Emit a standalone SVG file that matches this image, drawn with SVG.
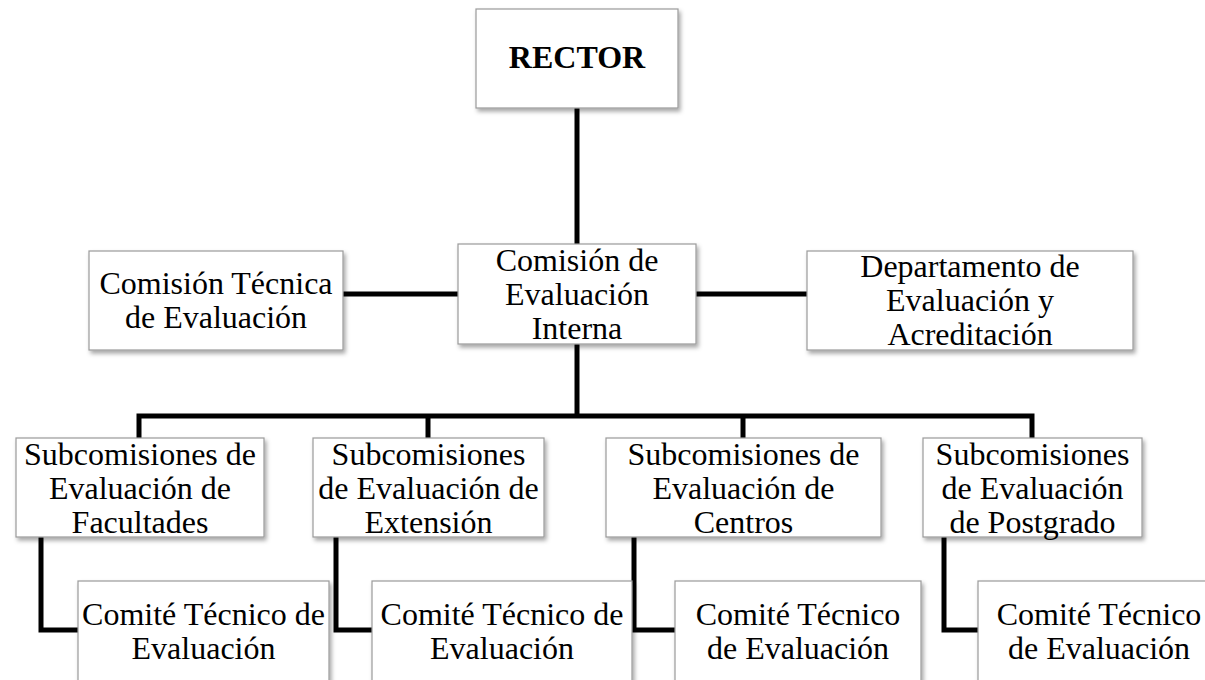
<svg xmlns="http://www.w3.org/2000/svg" width="1205" height="680" viewBox="0 0 1205 680">
  <defs>
    <filter id="sh" x="-10%" y="-10%" width="125%" height="130%">
      <feDropShadow dx="2" dy="3" stdDeviation="2" flood-color="#000" flood-opacity="0.35"/>
    </filter>
    <style>
      .box { fill: #ffffff; stroke: #9a9a9a; stroke-width: 1.2; filter: url(#sh); }
      .t { font-family: "Liberation Serif", "Times New Roman", serif; font-size: 32px; fill: #000; text-anchor: middle; }
      .b { font-weight: bold; }
      .c { fill: none; stroke: #000; stroke-width: 5; stroke-linejoin: miter; stroke-linecap: butt; }
    </style>
  </defs>
  <rect width="1205" height="680" fill="#ffffff"/>

  <g id="connectors">
    <path class="c" d="M577,108 V244"/>
    <path class="c" d="M343,294 H458"/>
    <path class="c" d="M696,294 H807"/>
    <path class="c" d="M577,344 V416"/>
    <path class="c" d="M139,438 V416 H1032 V438"/>
    <path class="c" d="M428,416 V438"/>
    <path class="c" d="M743,416 V438"/>
    <path class="c" d="M41,537 V630 H78"/>
    <path class="c" d="M336,537 V630 H372"/>
    <path class="c" d="M634,537 V630 H675"/>
    <path class="c" d="M944,537 V630 H978"/>
  </g>

  <g id="rector">
    <rect class="box" x="476" y="9" width="202" height="99"/>
    <text class="t b" x="577" y="68">RECTOR</text>
  </g>

  <g id="comision-tecnica">
    <rect class="box" x="89" y="251" width="254" height="99"/>
    <text class="t" x="216" y="294">Comisión Técnica</text>
    <text class="t" x="216" y="328">de Evaluación</text>
  </g>

  <g id="comision-interna">
    <rect class="box" x="458" y="244" width="238" height="100"/>
    <text class="t" x="577" y="271">Comisión de</text>
    <text class="t" x="577" y="305">Evaluación</text>
    <text class="t" x="577" y="339">Interna</text>
  </g>

  <g id="departamento">
    <rect class="box" x="807" y="251" width="326" height="99"/>
    <text class="t" x="970" y="277">Departamento de</text>
    <text class="t" x="970" y="311">Evaluación y</text>
    <text class="t" x="970" y="345">Acreditación</text>
  </g>

  <g id="sub-facultades">
    <rect class="box" x="16" y="438" width="248" height="99"/>
    <text class="t" x="140" y="465">Subcomisiones de</text>
    <text class="t" x="140" y="499">Evaluación de</text>
    <text class="t" x="140" y="533">Facultades</text>
  </g>

  <g id="sub-extension">
    <rect class="box" x="313" y="438" width="231" height="99"/>
    <text class="t" x="428.5" y="465">Subcomisiones</text>
    <text class="t" x="428.5" y="499">de Evaluación de</text>
    <text class="t" x="428.5" y="533">Extensión</text>
  </g>

  <g id="sub-centros">
    <rect class="box" x="606" y="438" width="275" height="99"/>
    <text class="t" x="743.5" y="465">Subcomisiones de</text>
    <text class="t" x="743.5" y="499">Evaluación de</text>
    <text class="t" x="743.5" y="533">Centros</text>
  </g>

  <g id="sub-postgrado">
    <rect class="box" x="923" y="438" width="219" height="99"/>
    <text class="t" x="1032.5" y="465">Subcomisiones</text>
    <text class="t" x="1032.5" y="499">de Evaluación</text>
    <text class="t" x="1032.5" y="533">de Postgrado</text>
  </g>

  <g id="comite-1">
    <rect class="box" x="78" y="581" width="251" height="100"/>
    <text class="t" x="203.5" y="625">Comité Técnico de</text>
    <text class="t" x="203.5" y="659">Evaluación</text>
  </g>

  <g id="comite-2">
    <rect class="box" x="372" y="581" width="260" height="100"/>
    <text class="t" x="502" y="625">Comité Técnico de</text>
    <text class="t" x="502" y="659">Evaluación</text>
  </g>

  <g id="comite-3">
    <rect class="box" x="675" y="581" width="246" height="100"/>
    <text class="t" x="798" y="625">Comité Técnico</text>
    <text class="t" x="798" y="659">de Evaluación</text>
  </g>

  <g id="comite-4">
    <rect class="box" x="978" y="581" width="242" height="100"/>
    <text class="t" x="1099" y="625">Comité Técnico</text>
    <text class="t" x="1099" y="659">de Evaluación</text>
  </g>
</svg>
